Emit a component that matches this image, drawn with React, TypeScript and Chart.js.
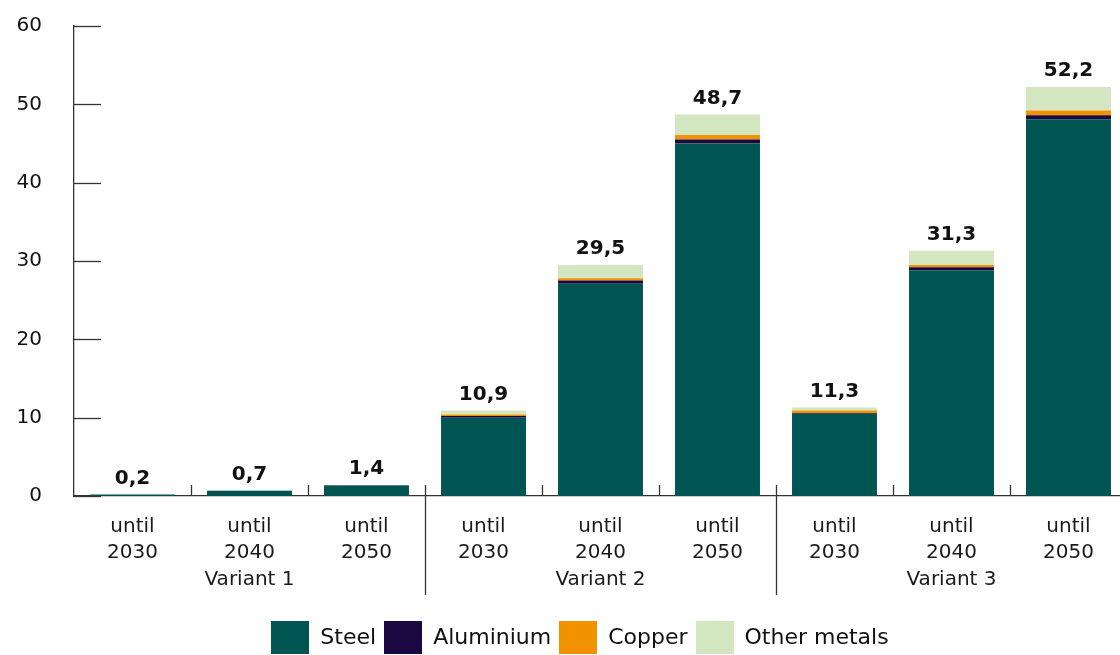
import React, { useEffect, useRef } from "react";
import { Chart, registerables } from "chart.js";

Chart.register(...registerables);

const categories: string[][] = [
  ["until", "2030"], ["until", "2040"], ["until", "2050"],
  ["until", "2030"], ["until", "2040"], ["until", "2050"],
  ["until", "2030"], ["until", "2040"], ["until", "2050"],
];
const groups: string[] = ["Variant 1", "Variant 2", "Variant 3"];
const steel: number[] = [0.2, 0.65, 1.35, 10.0, 27.1, 45.0, 10.5, 28.8, 48.1];
const aluminium: number[] = [0, 0.01, 0.02, 0.2, 0.4, 0.5, 0.1, 0.4, 0.5];
const copper: number[] = [0, 0.02, 0.02, 0.2, 0.3, 0.6, 0.3, 0.3, 0.6];
const otherMetals: number[] = [0, 0.02, 0.01, 0.5, 1.7, 2.6, 0.4, 1.8, 3.0];
const totals: number[] = [0.2, 0.7, 1.4, 10.9, 29.5, 48.7, 11.3, 31.3, 52.2];

const FONT = "'DejaVu Sans', sans-serif";
const AXIS = "#333333";
const FS = 20;

const decorPlugin = {
  id: "decor",
  afterDatasetsDraw(chart: any) {
    const { ctx, chartArea, scales } = chart;
    const x = scales.x;
    const y = scales.y;
    ctx.save();
    // totals
    ctx.font = `bold 20px ${FONT}`;
    ctx.fillStyle = "#111111";
    ctx.textAlign = "center";
    ctx.textBaseline = "middle";
    const meta = chart.getDatasetMeta(0);
    totals.forEach((t, i) => {
      const px = meta.data[i].x;
      const py = y.getPixelForValue(t);
      ctx.fillText(t.toFixed(1).replace(".", ","), px, py - 16);
    });
    // y ticks inside
    ctx.strokeStyle = AXIS;
    ctx.lineWidth = 1.3;
    y.ticks.forEach((tk: any) => {
      const py = Math.round(y.getPixelForValue(tk.value)) + 0.5;
      ctx.beginPath();
      ctx.moveTo(chartArea.left, py);
      ctx.lineTo(chartArea.left + 27, py);
      ctx.stroke();
    });
    // category boundary ticks
    const n = categories.length;
    for (let i = 1; i < n; i++) {
      const px = Math.round((x.getPixelForValue(i - 1) + x.getPixelForValue(i)) / 2) + 0.5;
      const long = i % 3 === 0;
      ctx.beginPath();
      ctx.moveTo(px, chartArea.bottom - 11);
      ctx.lineTo(px, long ? chartArea.bottom + 99 : chartArea.bottom);
      ctx.stroke();
    }
    // group labels
    ctx.font = `${FS}px ${FONT}`;
    ctx.fillStyle = "#1a1a1a";
    groups.forEach((g, gi) => {
      const px = x.getPixelForValue(gi * 3 + 1);
      ctx.fillText(g, px, chartArea.bottom + 84);
    });
    // legend
    const ds = chart.data.datasets;
    const boxW = 38, boxH = 33, gapText = 11, gapItem = 8;
    ctx.font = `22px ${FONT}`;
    const widths = ds.map((d: any) => ctx.measureText(d.label).width);
    const total = widths.reduce((a: number, w: number) => a + boxW + gapText + w, 0) + gapItem * (ds.length - 1);
    let lx = 580 - total / 2;
    const ly = 637.5;
    ctx.textAlign = "left";
    ds.forEach((d: any, i: number) => {
      ctx.fillStyle = d.backgroundColor;
      ctx.fillRect(Math.round(lx), ly - boxH / 2, boxW, boxH);
      lx += boxW + gapText;
      ctx.fillStyle = "#111111";
      ctx.fillText(d.label, lx, ly + 1);
      lx += widths[i] + gapItem;
    });
    ctx.restore();
  },
};

export default function App() {
  const ref = useRef<HTMLCanvasElement | null>(null);
  useEffect(() => {
    if (!ref.current) return;
    const chart = new Chart(ref.current, {
      type: "bar",
      data: {
        labels: categories,
        datasets: [
          { label: "Steel", data: steel, backgroundColor: "#005451" },
          { label: "Aluminium", data: aluminium, backgroundColor: "#1b0840" },
          { label: "Copper", data: copper, backgroundColor: "#f39200" },
          { label: "Other metals", data: otherMetals, backgroundColor: "#d2e6c0" },
        ],
      },
      options: {
        responsive: false,
        animation: false,
        devicePixelRatio: 1,
        datasets: { bar: { barPercentage: 0.726, categoryPercentage: 1 } },
        layout: { autoPadding: false, padding: { left: 0, right: 13, top: 26, bottom: 0 } },
        plugins: {
          tooltip: { enabled: false },
          legend: { display: false },
        },
        scales: {
          x: {
            stacked: true,
            grid: { display: false, drawTicks: false },
            border: { display: true, color: AXIS, width: 1.3 },
            ticks: {
              color: "#1a1a1a",
              padding: 18,
              maxRotation: 0,
              autoSkip: false,
              font: { family: FONT, size: FS, lineHeight: 1.3 },
            },
            afterFit: (s: any) => { s.height = 159; },
          },
          y: {
            stacked: true,
            min: 0,
            max: 60,
            grid: { display: false, drawTicks: false },
            border: { display: true, color: AXIS, width: 1.3 },
            ticks: {
              stepSize: 10,
              color: "#111111",
              padding: 32,
              font: { family: FONT, size: FS },
            },
            afterFit: (s: any) => { s.width = 74; s.paddingTop = 0; s.paddingBottom = 0; },
          },
        },
      },
      plugins: [decorPlugin],
    });
    return () => chart.destroy();
  }, []);
  return (
    <div style={{ position: "fixed", left: 0, top: 0, width: 1120, height: 655, overflow: "hidden", background: "#fff" }}>
      <canvas ref={ref} width={1140} height={655} style={{ display: "block" }} />
    </div>
  );
}
